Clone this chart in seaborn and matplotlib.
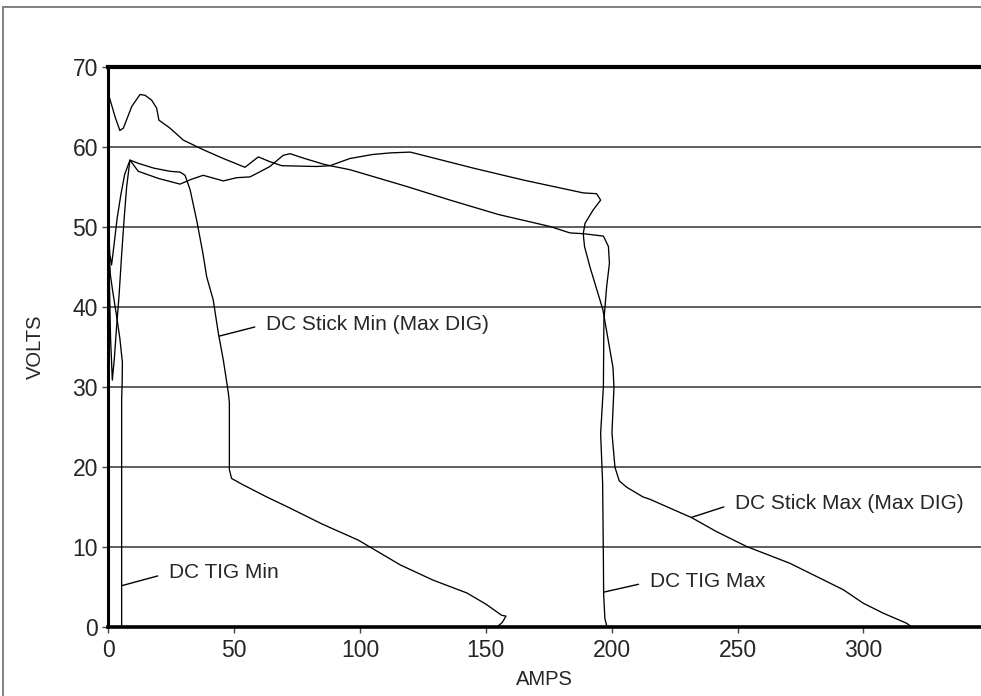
import pandas as pd
import matplotlib
matplotlib.use('Agg')
import matplotlib.pyplot as plt
import seaborn as sns
from matplotlib.patches import Rectangle

stick_max_amps = [0, 2.7, 4.6, 6.0, 9.3, 12.6, 14.6, 17.2, 19.2, 20.1, 24.5, 29.8, 37.7, 45.7,
                  54.3, 59.6, 64.2, 68.9, 82.8, 88.1, 96, 105, 112, 119.9, 122.5, 145, 165,
                  188.7, 194, 195.6, 192.7, 189.4, 188.7, 189.2, 191.4, 196.5, 200.5, 200.9,
                  200.1, 201.3, 203, 206, 212.4, 215.2, 231.8, 241.7, 253.6, 270.8, 292, 300,
                  308, 317.2, 319]
stick_max_volts = [66.6, 63.7, 62.0, 62.3, 65.0, 66.5, 66.4, 65.8, 64.8, 63.3, 62.3, 60.8, 59.6,
                   58.5, 57.4, 58.7, 58.1, 57.6, 57.5, 57.6, 58.5, 59.0, 59.2, 59.3, 59.1, 57.3,
                   55.8, 54.2, 54.1, 53.3, 52.1, 50.4, 49.1, 47.5, 44.9, 39.6, 32.4, 29.9, 24.2,
                   19.9, 18.2, 17.4, 16.2, 15.9, 13.6, 11.85, 10.0, 7.9, 4.6, 2.9, 1.65, 0.4, 0]

stick_min_amps = [0.1, 0.3, 0.9, 1.6, 2.4, 3.3, 4.3, 5.3, 6.3, 7.3, 8.6, 11.9, 18, 24.5, 28.5,
                  30.5, 32.5, 35.1, 37.5, 39.1, 41.7, 43.7, 45.7, 47.7, 48.1, 48.1, 49, 53.6,
                  62.9, 72.2, 85, 99.3, 116, 129, 142.4, 150, 156.3, 158, 156.5, 155]
stick_min_volts = [51, 45, 36, 30.8, 33.5, 37.5, 41.5, 46.5, 51, 55, 58.3, 57.9, 57.3, 56.9, 56.8,
                   56.4, 54.6, 50.8, 46.8, 43.7, 40.8, 36.7, 33.3, 29.2, 28, 19.6, 18.5, 17.7,
                   16.2, 14.8, 12.8, 10.8, 7.7, 5.8, 4.2, 2.8, 1.4, 1.3, 0.5, 0.1]

tig_max_amps = [0.1, 0.6, 1.3, 2.2, 3.5, 5.0, 6.5, 8.6, 11.9, 20, 28.5, 33, 37.7, 45.7, 51, 56.3,
                60, 64.2, 69.5, 72.2, 78, 85.4, 88.1, 96, 118.6, 135.8, 155, 175.5, 183.4, 188.7,
                196.7, 198.7, 199.1, 198, 196.9, 196.7, 195.6, 196.4, 196.7, 196.8, 197.3, 198]
tig_max_volts = [50, 46.5, 45.2, 47.5, 51, 54, 56.5, 58.3, 56.9, 56.0, 55.3, 55.9, 56.4, 55.7,
                 56.1, 56.2, 56.8, 57.5, 58.9, 59.1, 58.5, 57.8, 57.6, 57.1, 55.0, 53.3, 51.5,
                 50.0, 49.2, 49.1, 48.8, 47.5, 45.4, 42.5, 38.3, 30.0, 24.1, 17.9, 8.3, 4.0,
                 1.0, 0.1]

tig_min_amps = [5.3, 5.3, 5.5, 5.6, 4.6, 3.2, 1.8, 0.8, 0.3, 0.1]
tig_min_volts = [0, 28.3, 30.5, 33, 36, 39, 41.8, 44, 47, 50]

curve_names = ['DC Stick Max (Max DIG)', 'DC Stick Min (Max DIG)', 'DC TIG Max', 'DC TIG Min']
x_ticks = [0, 50, 100, 150, 200, 250, 300]
y_ticks = [0, 10, 20, 30, 40, 50, 60, 70]

frames = []
for name, a, v in zip(curve_names,
                      [stick_max_amps, stick_min_amps, tig_max_amps, tig_min_amps],
                      [stick_max_volts, stick_min_volts, tig_max_volts, tig_min_volts]):
    frames.append(pd.DataFrame({'curve': name, 'amps': a, 'volts': v}))
df = pd.concat(frames, ignore_index=True)

sns.set_style('white')
plt.rcParams['font.family'] = ['Liberation Sans', 'DejaVu Sans']

W, H = 981, 696
fig = plt.figure(figsize=(W / 100, H / 100), dpi=100)
x0, x1 = 108.3, 981
y70, y0 = 66.5, 626.5
ax = fig.add_axes([x0 / W, (H - y0) / H, (x1 - x0) / W, (y0 - y70) / H])

sns.lineplot(data=df, x='amps', y='volts', units='curve', estimator=None, sort=False,
             color='black', linewidth=0.95, ax=ax, legend=False)

ax.set_xlim(0, (x1 - x0) / 2.517)
ax.set_ylim(0, 70)
ax.set_xticks(x_ticks)
ax.set_yticks(y_ticks)
ax.yaxis.grid(True, color='#333333', linewidth=1.1)
ax.xaxis.grid(False)
ax.set_axisbelow(True)

for side in ['left', 'bottom', 'top']:
    ax.spines[side].set_visible(True)
    ax.spines[side].set_color('black')
ax.spines['left'].set_linewidth(2.2)
ax.spines['bottom'].set_linewidth(2.6)
ax.spines['top'].set_linewidth(3.0)
ax.spines['right'].set_visible(False)

ax.tick_params(axis='both', which='major', labelsize=16.5, length=4, width=1,
               color='#444444', direction='out', bottom=True, left=True)
ax.tick_params(axis='y', pad=3.5)
ax.tick_params(axis='x', pad=5)

ax.set_xlabel('AMPS', fontsize=14.5, labelpad=6)
ax.set_ylabel('VOLTS', fontsize=14.5, labelpad=20)

# callout labels
notes = [
    ('DC TIG Min', (5.3, 5.1), (24.1, 6.7)),
    ('DC Stick Min (Max DIG)', (44.1, 36.3), (62.7, 37.8)),
    ('DC Stick Max (Max DIG)', (231.8, 13.65), (249.0, 15.4)),
    ('DC TIG Max', (196.9, 4.3), (215.2, 5.6)),
]
for label, xy, xytext in notes:
    ax.annotate(label, xy=xy, xytext=xytext, ha='left', va='center', fontsize=15,
                arrowprops=dict(arrowstyle='-', color='black', lw=1.0,
                                relpos=(0, 0.5), shrinkA=6, shrinkB=0))

# grey frame around the chart
fig.patches.append(Rectangle((2.5 / W, -0.5), 2.0, 1.5 - 6.5 / H, transform=fig.transFigure,
                             fill=False, edgecolor='#808080', linewidth=1.4))

fig.savefig('out.png', dpi=100)
